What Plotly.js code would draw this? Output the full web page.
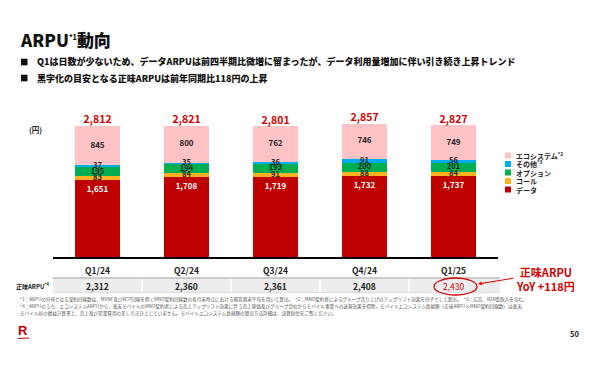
<!DOCTYPE html>
<html>
<head>
<meta charset="utf-8">
<script src="https://cdn.plot.ly/plotly-3.0.1.min.js"></script>
<style>html,body{margin:0;padding:0;background:#fff;}#chart{width:590px;height:365px;}</style>
</head>
<body>
<div id="chart"></div>
<script>
// ---- data ----
const quarters = ['Q1/24', 'Q2/24', 'Q3/24', 'Q4/24', 'Q1/25'];
const dataArpu = [1651, 1708, 1719, 1732, 1737];
const callArpu = [83, 84, 91, 88, 84];
const optionArpu = [195, 194, 193, 200, 201];
const otherArpu = [37, 35, 36, 91, 56];
const ecoArpu = [845, 800, 762, 746, 749];
const totals = [2812, 2821, 2801, 2857, 2827];
const netArpu = [2312, 2360, 2361, 2408, 2430];
const seriesNames = ['データ', 'コール', 'オプション', 'その他<sup>*3</sup>', 'エコシステム<sup>*2</sup>'];

const W = 590, H = 365;
const px = x => x / W;
const py = y => 1 - y / H;
const JP = '"Noto Sans CJK JP", "Noto Sans", sans-serif';
const fmt = v => v.toLocaleString('en-US');

const series = [dataArpu, callArpu, optionArpu, otherArpu, ecoArpu];
const colors = ['#BF0000', '#FFB21E', '#00B050', '#00AEEF', '#FFC3C6'];
const labelColors = ['#FFFFFF', '#222222', '#222222', '#222222', '#222222'];

const traces = [];
series.forEach((s, i) => {
  const isData = i === 0;
  const t = {
    type: 'bar', x: quarters, y: s, name: seriesNames[i],
    marker: {color: colors[i], line: {width: 0}},
    hoverinfo: 'skip', showlegend: false
  };
  if (isData) {
    t.text = s.map(fmt);
    t.textposition = 'inside';
    t.insidetextanchor = 'end';
    t.constraintext = 'none';
    t.textangle = 0;
    t.insidetextfont = {family: JP, size: 8, color: '#FFFFFF', weight: 700};
  }
  traces.push(t);
});
// labels for the thin segments at their midpoints
const cum = quarters.map(() => 0);
series.forEach((s, i) => {
  const mids = s.map((v, k) => cum[k] + v / 2);
  s.forEach((v, k) => { cum[k] += v; });
  if (i === 0) return;
  traces.push({
    type: 'scatter', mode: 'text', x: quarters, y: mids,
    text: s.map(fmt), textposition: 'middle center',
    textfont: {family: JP, size: i === 4 ? 8 : 7.5, color: labelColors[i], weight: 700},
    hoverinfo: 'skip', showlegend: false, cliponaxis: false
  });
});
// totals
traces.push({
  type: 'scatter', mode: 'text', x: quarters, y: totals,
  text: totals.map(fmt), textposition: 'top center',
  textfont: {family: JP, size: 10.5, color: '#D40000', weight: 700},
  hoverinfo: 'skip', showlegend: false, cliponaxis: false
});

const annotations = [];
const shapes = [];
// title and bullets
annotations.push({xref: 'paper', yref: 'paper', x: px(18), y: py(39), xanchor: 'left', yanchor: 'middle', showarrow: false,
  text: 'ARPU<sup><span style="font-size:7px">*1</span></sup>動向', font: {family: JP, size: 17, color: '#111', weight: 900}});
const bullets = ['Q1は日数が少ないため、データARPUは前四半期比微増に留まったが、データ利用量増加に伴い引き続き上昇トレンド',
  '黒字化の目安となる正味ARPUは前年同期比118円の上昇'];
bullets.forEach((b, i) => {
  const y = 62 + i * 16;
  shapes.push({type: 'rect', xref: 'paper', yref: 'paper', x0: px(21), x1: px(27.5), y0: py(y - 3.3), y1: py(y + 3.3),
    fillcolor: '#111', line: {width: 0}});
  annotations.push({xref: 'paper', yref: 'paper', x: px(35), y: py(y), xanchor: 'left', yanchor: 'middle', showarrow: false,
    text: b, font: {family: JP, size: 9, color: '#111', weight: 900}});
});
// unit
annotations.push({xref: 'paper', yref: 'paper', x: px(35), y: py(129), xanchor: 'center', yanchor: 'middle', showarrow: false,
  text: '(円)', font: {family: JP, size: 7.5, color: '#222', weight: 700}});
// legend (custom)
const legendOrder = [4, 3, 2, 1, 0];
legendOrder.forEach((si, j) => {
  const y = 155.5 + j * 8.5;
  shapes.push({type: 'rect', xref: 'paper', yref: 'paper', x0: px(505), x1: px(511), y0: py(y - 3), y1: py(y + 3),
    fillcolor: colors[si], line: {width: 0}});
  annotations.push({xref: 'paper', yref: 'paper', x: px(514), y: py(y), xanchor: 'left', yanchor: 'middle', showarrow: false,
    text: seriesNames[si], font: {family: JP, size: 7, color: '#222', weight: 700}});
});
// net ARPU row
shapes.push({type: 'rect', xref: 'paper', yref: 'paper', x0: px(53), x1: px(500), y0: py(292), y1: py(278),
  fillcolor: '#EDEDED', line: {width: 0}, layer: 'below'});
shapes.push({type: 'line', xref: 'paper', yref: 'paper', x0: px(53), x1: px(500), y0: py(278), y1: py(278),
  line: {color: '#BDBDBD', width: 1.5}});
shapes.push({type: 'line', xref: 'paper', yref: 'paper', x0: px(53), x1: px(500), y0: py(292.5), y1: py(292.5),
  line: {color: '#DDDDDD', width: 1}});
[0.5, 1.5, 2.5, 3.5].forEach(xv => {
  shapes.push({type: 'line', xref: 'x', yref: 'paper', x0: xv, x1: xv, y0: py(279), y1: py(292),
    line: {color: '#FFFFFF', width: 1.5}});
});
annotations.push({xref: 'paper', yref: 'paper', x: px(14), y: py(286), xanchor: 'left', yanchor: 'middle', showarrow: false,
  text: '正味ARPU<sup>*4</sup>', font: {family: JP, size: 6, color: '#222', weight: 700}});
netArpu.forEach((v, k) => {
  const last = k === netArpu.length - 1;
  annotations.push({xref: 'x', yref: 'paper', x: quarters[k], y: py(286), xanchor: 'center', yanchor: 'middle', showarrow: false,
    text: fmt(v), font: {family: JP, size: 8.5, color: last ? '#D40000' : '#222', weight: last ? 400 : 700}});
});
// ellipse and callout
shapes.push({type: 'circle', xref: 'paper', yref: 'paper', x0: px(434), x1: px(477), y0: py(295), y1: py(278),
  line: {color: '#D40000', width: 1.3}});
annotations.push({xref: 'paper', yref: 'paper', x: px(478), y: py(284), showarrow: true, text: '',
  ax: 37, ay: -6, arrowhead: 2, arrowsize: 0.8, arrowwidth: 1, arrowcolor: '#D40000'});
annotations.push({xref: 'paper', yref: 'paper', x: px(545), y: py(279), xanchor: 'center', yanchor: 'middle', showarrow: false,
  text: '正味ARPU<br>YoY +118円', align: 'center', font: {family: JP, size: 11, color: '#D40000', weight: 700}});
// footnotes
const notes = [
  '*1：ARPUの分母となる契約回線数は、MVNE及びRCP回線を除くMNO契約回線数の各月末時点における期首期末平均を用いて算出。　*2：MNO契約者によるグループ売り上げのアップリフト効果を分子として算出。　*3：広告、R2R受取入を含む。',
  '*4：ARPUのうち、エコシステムARPUから、楽天モバイルのMNO契約者による売上アップリフト効果に伴う売上原価及びグループ会社からモバイル事業への送客効果を控除。モバイルエコシステム貢献額（正味ARPU×MNO契約回線数）は楽天',
  'モバイル社の損益計算書上、売上及び営業費用の差し引き計上していません。モバイルエコシステム貢献額の算出方法詳細は、決算短信をご覧ください。'
];
notes.forEach((t, i) => {
  annotations.push({xref: 'paper', yref: 'paper', x: px(18), y: py(299 + i * 7), xanchor: 'left', yanchor: 'middle', showarrow: false,
    text: t, font: {family: JP, size: 4.6, color: '#555'}});
});
// logo and page number
annotations.push({xref: 'paper', yref: 'paper', x: px(23), y: py(330), xanchor: 'center', yanchor: 'middle', showarrow: false,
  text: 'R', font: {family: 'Liberation Sans, sans-serif', size: 13, color: '#BF0000', weight: 700}});
shapes.push({type: 'line', xref: 'paper', yref: 'paper', x0: px(18), x1: px(29), y0: py(338.5), y1: py(338), line: {color: '#BF0000', width: 1.2}});
annotations.push({xref: 'paper', yref: 'paper', x: px(574), y: py(333), xanchor: 'center', yanchor: 'middle', showarrow: false,
  text: '50', font: {family: JP, size: 7.5, color: '#222', weight: 700}});

const layout = {
  width: W, height: H,
  margin: {l: 0, r: 0, t: 0, b: 0},
  paper_bgcolor: '#fff', plot_bgcolor: '#fff',
  barmode: 'stack', bargap: 0.5,
  showlegend: false,
  xaxis: {domain: [px(53), px(498)], type: 'category', showline: true, linecolor: '#000', linewidth: 2,
    ticks: 'outside', ticklen: 5, tickcolor: 'rgba(0,0,0,0)', showgrid: false, zeroline: false,
    tickfont: {family: JP, size: 8.5, color: '#222', weight: 700}, fixedrange: true},
  yaxis: {domain: [py(257), py(99)], range: [0, 3390], visible: false, showgrid: false, zeroline: false, fixedrange: true},
  annotations: annotations,
  shapes: shapes,
  font: {family: JP}
};
Plotly.newPlot('chart', traces, layout, {displayModeBar: false, staticPlot: true});
</script>
</body>
</html>
